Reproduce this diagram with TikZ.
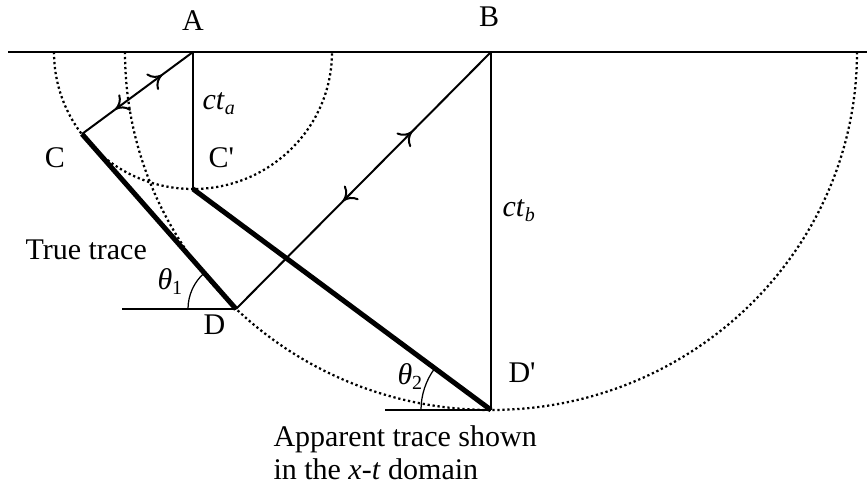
\documentclass[tikz,border=0pt]{standalone}
\usepackage{fontspec}
\setmainfont{Liberation Serif}
\usetikzlibrary{arrows.meta,decorations.markings}

\begin{document}
\begin{tikzpicture}[x=0.4pt, y=0.4pt,
    every node/.style={font=\fontsize{12}{13}\selectfont, inner sep=0pt},
    frente/.style={line width=0.8pt},
    traco/.style={line width=2pt},
    onda/.style={line width=0.9pt, dash pattern=on 0.9pt off 1.1pt},
    fino/.style={line width=0.5pt},
    vaivem/.style 2 args={postaction={decorate}, decoration={markings,
        mark=at position #1 with {\arrowreversed{Computer Modern Rightarrow[length=5pt,width=8pt]}},
        mark=at position #2 with {\arrow{Computer Modern Rightarrow[length=5pt,width=8pt]}}}}]
        \useasboundingbox (0,0) rectangle (867,493);

        \coordinate (A) at (193,441);
        \coordinate (B) at (491,441);
        \coordinate (C) at (82,359);
        \coordinate (Cl) at (193,304);
        \coordinate (D) at (236,184);
        \coordinate (Dl) at (491,83);
        \coordinate (esq) at (8,441);
        \coordinate (dir) at (867,441);
        \coordinate (baseD) at (122,184);
        \coordinate (baseDl) at (385,83);

        % Frentes de onda.
        \draw[onda] (A) ++(-139,0) arc[start angle=180, end angle=360, x radius=139, y radius=137];
        \draw[onda] (B) ++(-366,0) arc[start angle=180, end angle=360, x radius=366, y radius=358];

        % Superficie.
        \draw[frente] (esq) -- (dir);

        % Raios de ida e volta.
        \draw[frente, vaivem={0.28}{0.70}] (A) -- (C);
        \draw[frente, vaivem={0.31}{0.58}] (B) -- (D);
        \draw[frente] (A) -- (Cl);
        \draw[frente] (B) -- (Dl);

        % Tracos verdadeiro e aparente.
        \draw[traco] (C) -- (D);
        \draw[traco] (Cl) -- (Dl);

        % Angulos.
        \draw[fino] (baseD) -- (D);
        \draw[fino] (baseDl) -- (Dl);
        \draw[fino] (D) ++(-48,0) arc[start angle=180, end angle=131, radius=48];
        \draw[fino] (Dl) ++(-70,0) arc[start angle=180, end angle=143, radius=70];

        \node[anchor=base] (lA) at (193,462) {A};
        \node[anchor=base] (lB) at (489,466) {B};
        \node[anchor=base] (lC) at (55,325) {C};
        \node[anchor=base west] (lCl) at (208,325) {C\textquotesingle};
        \node[anchor=base west] (lcta) at (202,383) {\textit{ct}\textsubscript{\textit{a}}};
        \node[anchor=base west] (lctb) at (502,276) {\textit{ct}\textsubscript{\textit{b}}};
        \node[anchor=base west] (verdadeiro) at (25,233) {True trace};
        \node[anchor=base west] (teta1) at (157,203) {\textit{θ}\textsubscript{1}};
        \node[anchor=base west] (lD) at (203,158) {D};
        \node[anchor=base west] (teta2) at (397,108) {\textit{θ}\textsubscript{2}};
        \node[anchor=base west] (lDl) at (508,110) {D\textquotesingle};
        \node[anchor=base west] (aparente) at (273,46) {Apparent trace shown};
        \node[anchor=base west] (dominio) at (273,13) {in the \textit{x}-\textit{t} domain};
    \end{tikzpicture}
\end{document}
